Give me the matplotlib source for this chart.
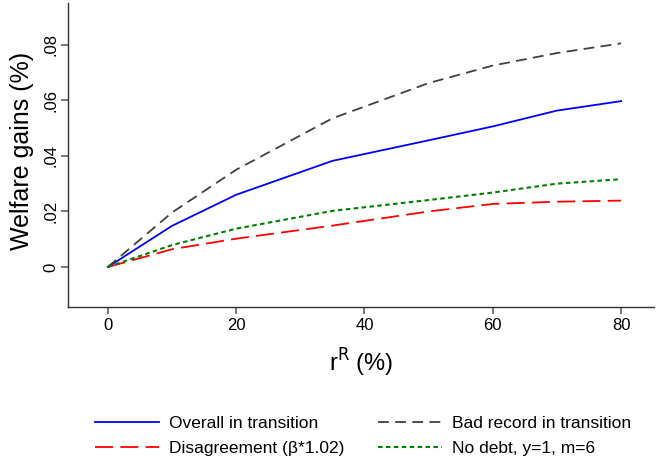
import numpy as np
import matplotlib
matplotlib.use('Agg')
import matplotlib.pyplot as plt
from matplotlib.ticker import FuncFormatter

plt.rcParams['font.family'] = ['Liberation Sans', 'DejaVu Sans']

# data
r_R = [0, 10, 20, 35, 50, 60, 70, 80]
overall = [0, 0.0148, 0.0260, 0.0382, 0.0456, 0.0506, 0.0563, 0.0597]
bad_record = [0, 0.0196, 0.0350, 0.0535, 0.0662, 0.0725, 0.0770, 0.0805]
disagree = [0, 0.0064, 0.0102, 0.0149, 0.0200, 0.0227, 0.0235, 0.0239]
no_debt = [0, 0.0079, 0.0138, 0.0202, 0.0241, 0.0268, 0.0300, 0.0316]

x_ticks = [0, 20, 40, 60, 80]
y_ticks = [0, 0.02, 0.04, 0.06, 0.08]

fig = plt.figure(figsize=(6.56, 4.61), dpi=100)
ax = fig.add_axes([0.1037, 0.334, 0.894, 0.66])

l1, = ax.plot(r_R, overall, color='#0000ff', lw=1.3)
l2, = ax.plot(r_R, bad_record, color='#404040', lw=1.3, dashes=(6, 3.5))
l3, = ax.plot(r_R, disagree, color='#ff0000', lw=1.3, dashes=(10, 4))
l4, = ax.plot(r_R, no_debt, color='#008000', lw=1.5, dashes=(2.2, 1.6))

ax.set_xlim(-6.2, 85.2)
ax.set_ylim(-0.0144, 0.0951)
ax.set_xticks(x_ticks)
ax.set_yticks(y_ticks)

def fmt(v, pos):
    if v == 0:
        return '0'
    return ('%.2f' % v).lstrip('0')

ax.yaxis.set_major_formatter(FuncFormatter(fmt))
for lab in ax.get_yticklabels():
    lab.set_rotation(90)
    lab.set_va('center')
ax.tick_params(axis='both', labelsize=12, length=5, width=1.1, color='#555555')
ax.tick_params(axis='y', pad=2)
ax.tick_params(axis='x', pad=3)

for s in ['top', 'right']:
    ax.spines[s].set_visible(False)
for s in ['left', 'bottom']:
    ax.spines[s].set_color('#333333')
    ax.spines[s].set_linewidth(1.0)

ax.set_ylabel('Welfare gains (%)', fontsize=18, va='center')
ax.yaxis.set_label_coords(-0.079, 0.513)
ax.set_xlabel('r$^{\\mathrm{R}}$ (%)', fontsize=17, va='center')
ax.xaxis.set_label_coords(0.5, -0.184)

# legend order gives rows: overall / bad record, disagreement / no debt
fig.legend([l1, l3, l2, l4],
           ['Overall in transition', 'Disagreement (\u03b2*1.02)',
            'Bad record in transition', 'No debt, y=1, m=6'],
           loc='center left', bbox_to_anchor=(0.1204, 0.054), ncol=2, frameon=False,
           fontsize=12.5, handlelength=3.7, columnspacing=1.95, labelspacing=0.55,
           handletextpad=0.58)

fig.savefig('out.png', dpi=100)
